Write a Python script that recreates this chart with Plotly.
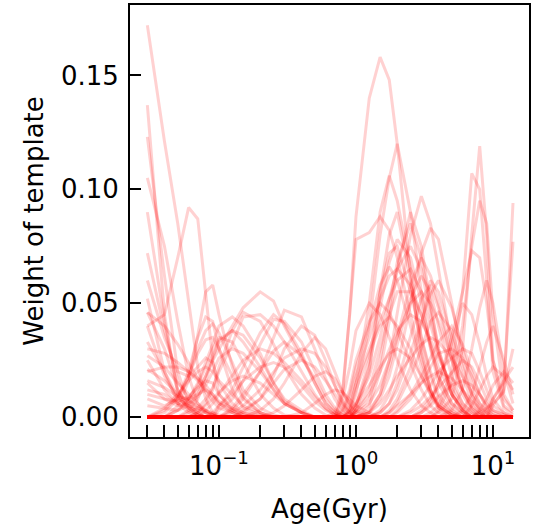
import plotly.graph_objects as go

# Template ages (Gyr) on which the weights are sampled
AGES_GYR = [0.03, 0.04, 0.05, 0.06, 0.07, 0.08, 0.09, 0.1, 0.125, 0.15, 0.2, 0.25,
            0.3, 0.4, 0.5, 0.6, 0.7, 0.8, 0.9, 1.0, 1.25, 1.5, 1.75, 2.0,
            2.5, 3.0, 3.5, 4.0, 5.0, 6.0, 7.0, 8.0, 9.0, 10.0, 12.0, 14.0]

# Weights in units of 1e-3
WEIGHTS_YOUNG = [
    [172,121,85,50,22,8,2,0,0,0,0,0, 0,0,0,0,0,0,0,0,0,0,0,0, 0,0,0,0,0,0,0,0,0,0,0,0],
    [137,45,10,3,1,0,0,0,0,0,0,0, 0,0,0,0,0,0,0,0,0,0,0,0, 0,0,0,0,0,0,0,0,0,0,0,0],
    [123,62,20,6,2,0,0,0,0,0,0,0, 0,0,0,0,0,0,0,0,0,0,0,0, 0,0,0,0,0,0,0,0,0,0,0,0],
    [105,75,42,18,6,2,0,0,0,0,0,0, 0,0,0,0,0,0,0,0,0,0,0,0, 0,0,0,0,0,0,0,0,0,0,0,0],
    [90,42,12,4,1,0,0,0,0,0,0,0, 0,0,0,0,0,0,0,0,0,0,0,0, 0,0,0,0,0,0,0,0,0,0,0,0],
    [72,38,16,8,4,2,1,0,0,0,0,0, 0,0,0,0,0,0,0,0,0,0,0,0, 0,0,0,0,0,0,0,0,0,0,0,0],
    [40,45,70,92,87,55,25,10,3,0,0,0, 0,0,0,0,0,0,0,0,0,0,0,0, 0,0,0,0,0,0,0,0,0,0,0,0],
    [46,30,12,5,2,0,0,0,0,0,0,0, 0,0,0,0,0,0,0,0,0,0,0,0, 0,0,0,0,0,0,0,0,0,0,0,0],
    [33,20,9,4,1,0,0,0,0,0,0,0, 0,0,0,0,0,0,0,0,0,0,0,0, 0,0,0,0,0,0,0,0,0,0,0,0],
    [27,22,15,10,6,3,1,0,0,0,0,0, 0,0,0,0,0,0,0,0,0,0,0,0, 0,0,0,0,0,0,0,0,0,0,0,0],
    [21,16,10,7,5,3,1,0,0,0,0,0, 0,0,0,0,0,0,0,0,0,0,0,0, 0,0,0,0,0,0,0,0,0,0,0,0],
    [16,13,9,8,10,12,10,6,2,0,0,0, 0,0,0,0,0,0,0,0,0,0,0,0, 0,0,0,0,0,0,0,0,0,0,0,0],
    [10,8,7,9,13,16,15,10,4,1,0,0, 0,0,0,0,0,0,0,0,0,0,0,0, 0,0,0,0,0,0,0,0,0,0,0,0],
    [0,2,8,20,35,44,42,30,12,4,1,0, 0,0,0,0,0,0,0,0,0,0,0,0, 0,0,0,0,0,0,0,0,0,0,0,0],
    [0,0,5,16,36,55,58,45,22,9,2,0, 0,0,0,0,0,0,0,0,0,0,0,0, 0,0,0,0,0,0,0,0,0,0,0,0],
    [8,5,8,18,30,38,41,37,24,12,4,1, 0,0,0,0,0,0,0,0,0,0,0,0, 0,0,0,0,0,0,0,0,0,0,0,0],
    [46,40,32,24,17,11,7,4,2,0,0,0, 0,0,0,0,0,0,0,0,0,0,0,0, 0,0,0,0,0,0,0,0,0,0,0,0],
    [30,28,24,20,16,12,9,6,3,1,0,0, 0,0,0,0,0,0,0,0,0,0,0,0, 0,0,0,0,0,0,0,0,0,0,0,0],
    [20,22,22,20,17,14,10,7,4,2,1,0, 0,0,0,0,0,0,0,0,0,0,0,0, 0,0,0,0,0,0,0,0,0,0,0,0],
    [0,3,9,18,28,34,35,30,18,8,2,0, 0,0,0,0,0,0,0,0,0,0,0,0, 0,0,0,0,0,0,0,0,0,0,0,0],
    [52,20,6,2,0,0,0,0,0,0,0,0, 0,0,0,0,0,0,0,0,0,0,0,0, 0,0,0,0,0,0,0,0,0,0,0,0],
    [12,10,6,8,14,22,30,35,33,24,10,4, 1,0,0,0,0,0,0,0,0,0,0,0, 0,0,0,0,0,0,0,0,0,0,0,0],
    [5,4,3,5,10,18,27,33,38,36,26,15, 7,2,0,0,0,0,0,0,0,0,0,0, 0,0,0,0,0,0,0,0,0,0,0,0],
    [60,35,20,18,22,26,24,15,6,2,0,0, 0,0,0,0,0,0,0,0,0,0,0,0, 0,0,0,0,0,0,0,0,0,0,0,0],
    [0,0,3,8,15,24,32,40,44,40,28,15, 8,3,0,0,0,0,0,0,0,0,0,0, 0,0,0,0,0,0,0,0,0,0,0,0],
    [40,18,8,5,4,3,2,1,0,0,0,0, 0,0,0,0,0,0,0,0,0,0,0,0, 0,0,0,0,0,0,0,0,0,0,0,0],
    [25,12,6,4,3,2,1,0,0,0,0,0, 0,0,0,0,0,0,0,0,0,0,0,0, 0,0,0,0,0,0,0,0,0,0,0,0],
    [0,4,10,16,20,22,20,16,10,5,2,0, 0,0,0,0,0,0,0,0,0,0,0,0, 0,0,0,0,0,0,0,0,0,0,0,0],
    [15,8,5,6,9,14,20,26,30,28,20,12, 6,2,0,0,0,0,0,0,0,0,0,0, 0,0,0,0,0,0,0,0,0,0,0,0],
]

WEIGHTS_MID = [
    [0,0,3,7,12,18,25,30,40,48,55,51, 40,26,17,8,3,1,0,0,0,0,0,0, 0,0,0,0,0,0,0,0,0,0,0,0],
    [0,0,0,0,2,6,12,22,38,46,42,32, 22,10,4,1,0,0,0,0,0,0,0,0, 0,0,0,0,0,0,0,0,0,0,0,0],
    [0,0,0,2,4,8,13,20,32,44,45,40, 33,20,10,4,1,0,0,0,0,0,0,0, 0,0,0,0,0,0,0,0,0,0,0,0],
    [0,0,0,0,0,0,0,3,8,16,32,43, 42,33,20,10,4,1,0,0,0,0,0,0, 0,0,0,0,0,0,0,0,0,0,0,0],
    [0,0,0,0,0,0,0,0,3,8,20,35, 47,44,30,17,8,3,1,0,0,0,0,0, 0,0,0,0,0,0,0,0,0,0,0,0],
    [0,0,0,0,0,0,0,0,0,2,8,18, 30,40,36,25,14,6,2,0,0,0,0,0, 0,0,0,0,0,0,0,0,0,0,0,0],
    [0,0,0,0,0,0,0,0,0,0,3,8, 15,28,35,30,20,11,5,2,0,0,0,0, 0,0,0,0,0,0,0,0,0,0,0,0],
    [0,0,0,0,0,3,6,10,18,25,30,28, 24,16,9,4,1,0,0,0,0,0,0,0, 0,0,0,0,0,0,0,0,0,0,0,0],
    [0,0,0,0,0,0,0,0,0,3,8,15, 21,25,22,16,10,5,2,0,0,0,0,0, 0,0,0,0,0,0,0,0,0,0,0,0],
    [0,0,0,0,0,0,0,0,0,0,0,2, 5,12,18,20,17,11,6,3,1,0,0,0, 0,0,0,0,0,0,0,0,0,0,0,0],
    [0,0,0,0,2,5,8,11,16,18,15,10, 6,2,0,0,0,0,0,0,0,0,0,0, 0,0,0,0,0,0,0,0,0,0,0,0],
    [0,0,0,3,8,16,26,34,38,33,22,12, 6,2,0,0,0,0,0,0,0,0,0,0, 0,0,0,0,0,0,0,0,0,0,0,0],
    [0,0,0,0,0,0,0,0,4,10,20,29, 33,27,15,6,2,0,0,0,0,0,0,0, 0,0,0,0,0,0,0,0,0,0,0,0],
    [0,0,0,0,0,0,0,5,12,22,37,45, 41,28,15,6,2,0,0,0,0,0,0,0, 0,0,0,0,0,0,0,0,0,0,0,0],
    [0,0,0,0,0,0,0,0,0,0,0,0, 0,2,6,10,12,11,8,5,2,0,0,0, 0,0,0,0,0,0,0,0,0,0,0,0],
    [0,0,0,0,0,0,0,0,2,5,12,20, 26,30,28,22,14,7,3,1,0,0,0,0, 0,0,0,0,0,0,0,0,0,0,0,0],
    [0,0,0,0,0,0,2,5,10,16,22,24, 22,14,7,3,1,0,0,0,0,0,0,0, 0,0,0,0,0,0,0,0,0,0,0,0],
]

WEIGHTS_OLD = [
    [0,0,0,0,0,0,0,0,0,0,0,0, 0,0,0,0,2,12,45,88,140,158,148,120, 62,28,12,5,1,0,0,0,0,0,0,0],
    [0,0,0,0,0,0,0,0,0,0,0,0, 0,0,0,0,0,0,2,10,40,80,105,120, 90,55,30,15,4,1,0,0,0,0,0,0],
    [0,0,0,0,0,0,0,0,0,0,0,0, 0,0,0,0,0,0,3,15,50,90,106,95, 65,35,18,8,2,0,0,0,0,0,0,0],
    [0,0,0,0,0,0,0,0,0,0,0,0, 0,0,0,0,0,0,0,0,2,10,25,45, 80,97,85,65,30,12,4,1,0,0,0,0],
    [0,0,0,0,0,0,0,0,0,0,0,0, 0,0,0,0,0,0,0,0,0,3,10,22, 50,72,83,78,50,25,10,3,0,0,0,0],
    [0,0,0,0,0,0,0,0,0,0,0,0, 0,0,0,0,0,10,45,78,81,88,82,70, 45,25,12,5,1,0,0,0,0,0,0,0],
    [0,0,0,0,0,0,0,0,0,0,0,0, 0,0,0,0,0,0,0,3,20,55,80,90, 60,30,12,4,0,0,0,0,0,0,0,0],
    [0,0,0,0,0,0,0,0,0,0,0,0, 0,0,0,0,0,0,0,2,8,25,48,68, 85,70,48,30,10,3,0,0,0,0,0,0],
    [0,0,0,0,0,0,0,0,0,0,0,0, 0,0,0,0,0,0,2,6,18,35,52,65, 75,65,45,28,10,3,0,0,0,0,0,0],
    [0,0,0,0,0,0,0,0,0,0,0,0, 0,0,0,0,0,0,0,0,3,10,22,35, 58,70,62,50,28,12,4,1,0,0,0,0],
    [0,0,0,0,0,0,0,0,0,0,0,0, 0,0,0,0,0,2,8,18,35,52,62,65, 58,45,32,22,10,4,1,0,0,0,0,0],
    [0,0,0,0,0,0,0,0,0,0,0,0, 0,0,0,0,0,0,0,0,0,2,6,12, 28,42,54,60,48,30,15,6,2,0,0,0],
    [0,0,0,0,0,0,0,0,0,0,0,0, 0,0,0,0,0,0,0,2,6,14,25,36, 50,55,50,42,25,12,5,2,0,0,0,0],
    [0,0,0,0,0,0,0,0,0,0,0,0, 0,0,0,0,0,4,12,25,42,50,46,38, 24,12,5,2,0,0,0,0,0,0,0,0],
    [0,0,0,0,0,0,0,0,0,0,0,0, 0,0,0,0,0,0,0,3,10,20,30,38, 45,42,34,26,14,6,2,0,0,0,0,0],
    [0,0,0,0,0,0,0,0,0,0,0,0, 0,0,0,0,0,0,0,0,0,0,0,3, 10,18,26,33,40,32,20,10,4,1,0,0],
    [0,0,0,0,0,0,0,0,0,0,0,0, 0,0,0,0,0,0,0,0,2,6,12,18, 26,32,35,33,26,18,11,6,3,1,0,0],
    [0,0,0,0,0,0,0,0,0,0,0,0, 0,0,0,0,0,0,2,6,14,22,28,30, 26,18,11,6,2,0,0,0,0,0,0,0],
    [0,0,0,0,0,0,0,0,0,0,0,0, 0,0,0,0,0,0,0,0,0,0,0,0, 2,5,9,13,20,25,22,15,8,3,1,0],
    [0,0,0,0,0,0,0,0,0,0,0,0, 0,0,0,0,0,0,0,0,0,0,2,5, 10,15,18,20,17,12,7,4,2,0,0,0],
    [0,0,0,0,0,0,0,0,0,0,0,0, 0,0,0,0,0,0,5,15,30,42,52,60, 65,55,40,28,12,4,0,0,0,0,0,0],
    [0,0,0,0,0,0,0,0,0,0,0,0, 0,0,0,0,0,0,0,0,5,20,42,65, 90,75,50,30,10,3,0,0,0,0,0,0],
    [0,0,0,0,0,0,0,0,0,0,0,0, 0,0,0,0,0,0,0,5,22,48,68,78, 70,50,32,18,6,2,0,0,0,0,0,0],
    [0,0,0,0,0,0,0,0,0,0,0,0, 0,0,0,0,0,0,0,0,0,0,3,8, 22,40,60,55,35,18,7,2,0,0,0,0],
    [0,0,0,0,0,0,0,0,0,0,0,0, 0,0,0,0,0,8,22,38,50,45,35,25, 12,5,2,0,0,0,0,0,0,0,0,0],
    [0,0,0,0,0,0,0,0,0,0,0,0, 0,0,0,0,0,0,0,5,25,55,72,75, 55,35,20,10,3,0,0,0,0,0,0,0],
    [0,0,0,0,0,0,0,0,0,0,0,0, 0,0,0,0,0,0,0,0,2,8,18,32, 52,62,55,40,18,6,2,0,0,0,0,0],
    [0,0,0,0,0,0,0,0,0,0,0,0, 0,0,0,0,0,0,0,3,12,30,45,55, 55,45,30,18,6,2,0,0,0,0,0,0],
    [0,0,0,0,0,0,0,0,0,0,0,0, 0,0,0,0,0,0,0,0,0,2,6,15, 35,52,58,48,25,10,3,0,0,0,0,0],
    [0,0,0,0,0,0,0,0,0,0,0,0, 0,0,0,0,0,3,10,22,40,58,66,60, 40,22,10,4,1,0,0,0,0,0,0,0],
    [0,0,0,0,0,0,0,0,0,0,0,0, 0,0,0,0,0,0,0,0,0,0,2,6, 18,30,42,46,38,22,10,4,1,0,0,0],
    [0,0,0,0,0,0,0,0,0,0,0,0, 0,0,0,0,0,0,0,0,0,0,0,2, 8,15,22,28,30,26,18,10,5,2,0,0],
    [0,0,0,0,0,0,0,0,0,0,0,0, 0,0,0,0,0,0,0,0,0,0,0,0, 3,8,14,20,26,30,28,20,12,5,2,0],
    [0,0,0,0,0,0,0,0,0,0,0,0, 0,0,0,0,0,0,0,0,0,0,0,0, 0,2,5,9,14,16,14,10,6,3,1,0],
    [0,0,0,0,0,0,0,0,0,0,0,0, 0,0,0,0,0,0,3,12,28,40,44,40, 30,18,10,5,1,0,0,0,0,0,0,0],
]

WEIGHTS_OLDEST = [
    [0,0,0,0,0,0,0,0,0,0,0,0, 0,0,0,0,0,0,0,0,0,0,0,0, 0,0,0,2,8,30,80,119,80,25,5,2],
    [0,0,0,0,0,0,0,0,0,0,0,0, 0,0,0,0,0,0,0,0,0,0,0,0, 0,0,2,5,20,55,107,100,60,20,4,1],
    [0,0,0,0,0,0,0,0,0,0,0,0, 0,0,0,0,0,0,0,0,0,0,0,0, 0,0,0,3,15,40,75,95,85,45,10,3],
    [0,0,0,0,0,0,0,0,0,0,0,0, 0,0,0,0,0,0,0,0,0,0,0,0, 0,2,6,15,35,55,73,70,50,25,8,3],
    [0,0,0,0,0,0,0,0,0,0,0,0, 0,0,0,0,0,0,0,0,0,0,0,0, 0,0,0,0,3,12,30,48,60,50,20,6],
    [0,0,0,0,0,0,0,0,0,0,0,0, 0,0,0,0,0,0,0,0,0,0,0,0, 0,3,8,15,32,50,45,32,18,8,2,0],
    [0,0,0,0,0,0,0,0,0,0,0,0, 0,0,0,0,0,0,0,0,0,0,0,0, 0,0,0,0,0,3,10,22,33,40,25,10],
    [0,0,0,0,0,0,0,0,0,0,0,0, 0,0,0,0,0,0,0,0,0,0,0,0, 0,0,0,0,0,0,0,2,4,6,11,94],
    [0,0,0,0,0,0,0,0,0,0,0,0, 0,0,0,0,0,0,0,0,0,0,0,0, 0,0,0,0,0,0,0,0,3,8,15,77],
    [0,0,0,0,0,0,0,0,0,0,0,0, 0,0,0,0,0,0,0,0,0,0,0,0, 0,0,0,0,0,0,0,0,0,5,12,30],
    [0,0,0,0,0,0,0,0,0,0,0,0, 0,0,0,0,0,0,0,0,0,0,0,0, 0,0,0,0,0,0,0,0,0,8,16,22],
    [0,0,0,0,0,0,0,0,0,0,0,0, 0,0,0,0,0,0,0,0,0,0,0,0, 0,0,0,0,0,0,5,12,18,22,18,12],
    [0,0,0,0,0,0,0,0,0,0,0,0, 0,0,0,0,0,0,0,0,0,0,0,0, 0,0,0,0,0,0,0,3,8,14,20,15],
]

WEIGHT_UNIT = 1e-3

X_MAJOR_VALS = [0.1, 1.0, 10.0]
X_MAJOR_TEXT = ["10<sup>−1</sup>", "10<sup>0</sup>", "10<sup>1</sup>"]
X_MINOR_VALS = [0.03, 0.04, 0.05, 0.06, 0.07, 0.08, 0.09,
                0.2, 0.3, 0.4, 0.5, 0.6, 0.7, 0.8, 0.9,
                2, 3, 4, 5, 6, 7, 8, 9]
Y_TICK_VALS = [0.0, 0.05, 0.10, 0.15]
Y_TICK_TEXT = ["0.00", "0.05", "0.10", "0.15"]

X_TITLE = "Age(Gyr)"
Y_TITLE = "Weight of template"

LINE_COLOR = "rgba(255,0,0,0.18)"
FONT = "DejaVu Sans"

fig = go.Figure()
for group in (WEIGHTS_YOUNG, WEIGHTS_MID, WEIGHTS_OLD, WEIGHTS_OLDEST):
    for row in group:
        fig.add_trace(go.Scatter(
            x=AGES_GYR, y=[v * WEIGHT_UNIT for v in row], mode="lines",
            line=dict(color=LINE_COLOR, width=3),
            showlegend=False, hoverinfo="skip"))

fig.update_layout(
    width=540, height=524,
    margin=dict(l=130, r=11, t=3, b=85),
    paper_bgcolor="white", plot_bgcolor="white",
    font=dict(family=FONT, size=26, color="black"),
    xaxis=dict(
        type="log", range=[-1.6496, 1.263],
        tickmode="array", tickvals=X_MAJOR_VALS, ticktext=X_MAJOR_TEXT,
        ticks="inside", ticklen=12, tickwidth=1.6, tickcolor="black",
        minor=dict(tickmode="array", tickvals=X_MINOR_VALS, ticks="inside",
                   ticklen=12, tickwidth=1.6, tickcolor="black", showgrid=False),
        showline=True, linecolor="black", linewidth=2, mirror=True,
        showgrid=False, zeroline=False,
        ticklabelstandoff=5,
        tickfont=dict(family=FONT, size=26, color="black"),
        title=dict(text=X_TITLE, font=dict(family=FONT, size=26), standoff=22),
    ),
    yaxis=dict(
        range=[-0.0087, 0.1809],
        tickmode="array", tickvals=Y_TICK_VALS, ticktext=Y_TICK_TEXT,
        ticks="inside", ticklen=11, tickwidth=2, tickcolor="black",
        showline=True, linecolor="black", linewidth=2, mirror=True,
        showgrid=False, zeroline=False,
        tickfont=dict(family=FONT, size=26, color="black"),
        ticklabelstandoff=4,
        title=dict(text=Y_TITLE, font=dict(family=FONT, size=26), standoff=10),
    ),
)

fig.write_html("out.html", config={"displayModeBar": False},
               post_script="document.body.style.margin='0';")
